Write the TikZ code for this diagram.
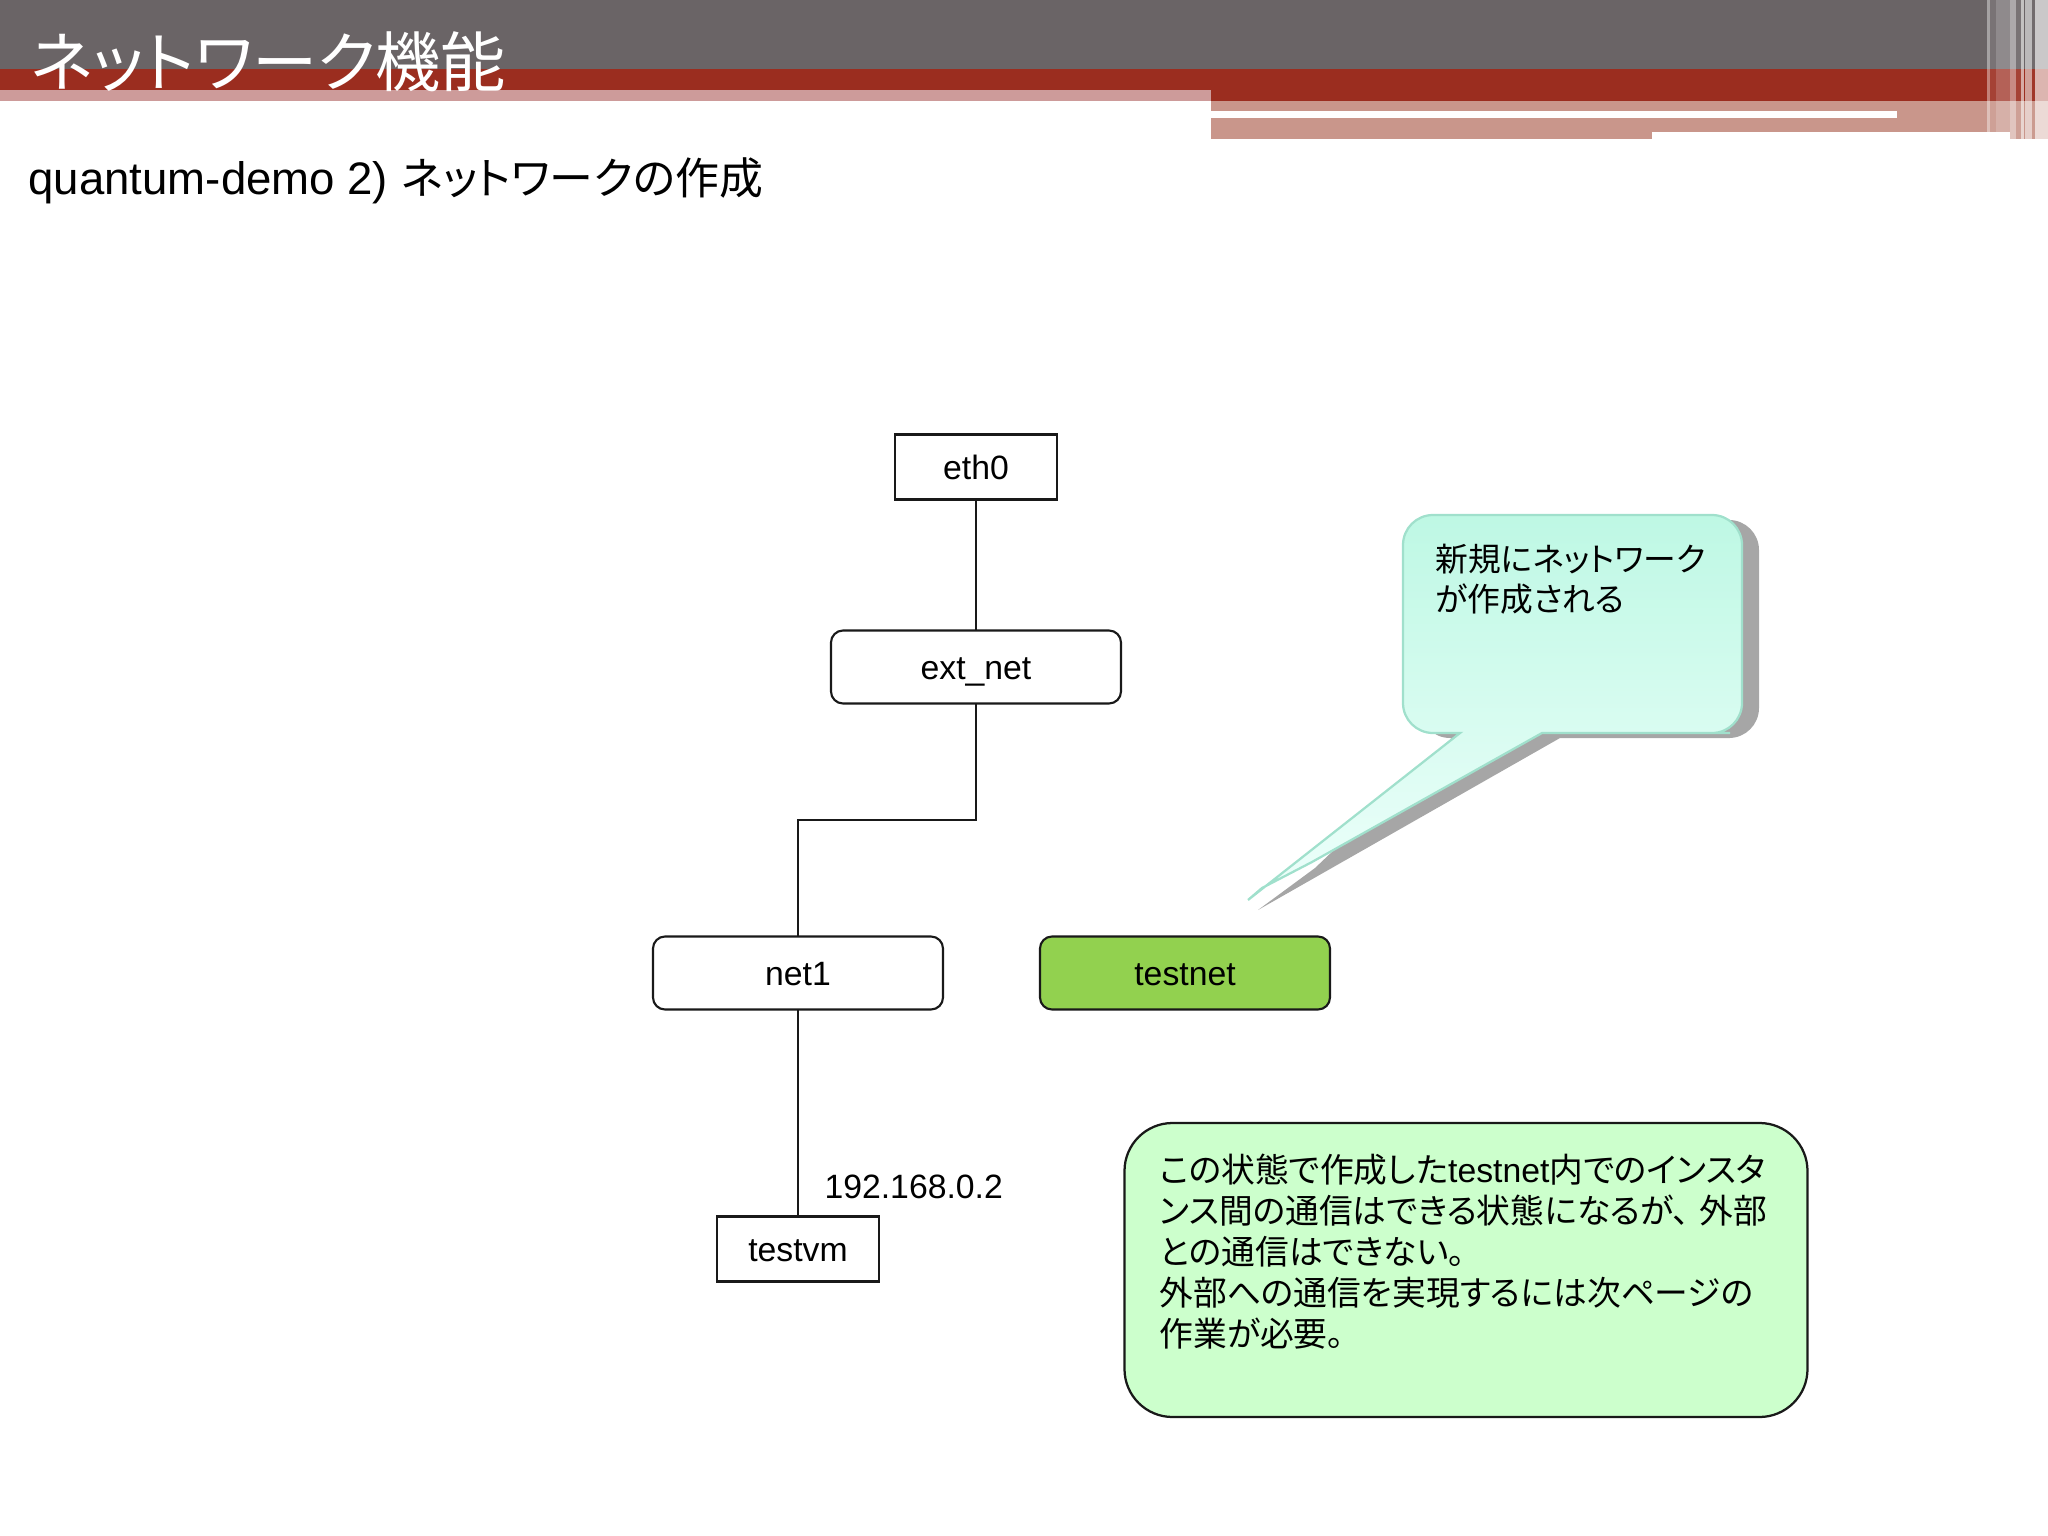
\documentclass[tikz,border=0pt]{standalone}
\usepackage{fontspec}
\setmainfont{Liberation Sans}
\newfontfamily\jp[RawFeature=+palt]{Noto Sans CJK JP}
\def\pxu{0.0125cm}
\definecolor{bandgray}{HTML}{6A6466}
\definecolor{bandred}{HTML}{9B2D1F}
\definecolor{bandpink}{HTML}{CD9B9A}
\definecolor{bandrose}{HTML}{C9968B}
\definecolor{netgreen}{HTML}{92D14F}
\definecolor{notegreen}{HTML}{CCFFCC}
\definecolor{calloutedge}{HTML}{A0E0CC}
\definecolor{callouttop}{HTML}{BEF8E4}
\definecolor{calloutlow}{HTML}{EEFFFB}
\tikzset{
	wire/.style={line width=0.8pt,draw=black!90},
	port/.style={draw=black!90,line width=0.75pt,fill=white,outer sep=0pt,inner sep=0pt,minimum width=162*\pxu,minimum height=65*\pxu,text height=8.8pt,text depth=0pt,font=\fontsize{12}{14}\selectfont},
	netbox/.style={port,rounded corners=12*\pxu,minimum width=290*\pxu,minimum height=73*\pxu},
	jptext/.style={anchor=north west,inner sep=0pt,align=left,font=\fontsize{11.7}{14.6}\selectfont\jp},
	strip/.style={white,opacity=#1}
}

\begin{document}
\begin{tikzpicture}[x=\pxu,y=-\pxu]
	\useasboundingbox (0,0) rectangle (2048,1536);
	%%%%% HEADER %%%%%
	\fill[bandgray] (0,0) rectangle (2048,69);
	\fill[bandred] (0,69) rectangle (2048,101);
	\fill[bandpink] (0,90) rectangle (1211,101);
	\fill[bandrose] (1211,101) rectangle (2048,139);
	\fill[white] (1211,111) rectangle (1897,117.5);
	
	\fill[strip=0.4] (1987.3,0) rectangle (1989.7,139);
	\fill[strip=0.1] (1990,0) rectangle (1996,139);
	\fill[strip=0.25] (1996,0) rectangle (2010,139);
	\fill[strip=0.45] (2010,0) rectangle (2016.3,139);
	\fill[strip=0.1] (2016.3,0) rectangle (2021,139);
	\fill[strip=0.6] (2021,0) rectangle (2024,139);
	\fill[strip=0.55] (2025.3,0) rectangle (2032,139);
	\fill[strip=0.05] (2032,0) rectangle (2034.7,139);
	\fill[strip=0.65] (2034.7,0) rectangle (2048,139);
	\fill[white] (1652,132) rectangle (2010,139);
	
	\node[anchor=west,inner sep=0pt,text=white,font=\fontsize{23.2}{28}\selectfont\jp] (title) at (30,62) {ネットワーク機能};
	\node[anchor=base west,inner sep=0pt,font=\fontsize{16.2}{19}\selectfont] (subtitle) at (28,194) {quantum-demo 2) {\jp\fontsize{15.6}{19}\selectfont ネットワークの作成}};
	
	%%%%% NETWORK %%%%%
	\node[port] (eth0) at (976,467) {eth0};
	\node[netbox] (extnet) at (976,667) {ext\_net};
	\node[netbox] (net1) at (798,973) {net1};
	\node[netbox,fill=netgreen] (testnet) at (1185,973) {testnet};
	\node[port] (testvm) at (798,1249) {testvm};
	\coordinate (bend) at (798,820);
	
	\draw[wire] (eth0) -- (extnet);
	\draw[wire] (extnet.south) |- (bend) -- (net1.north);
	\draw[wire] (net1) -- (testvm);
	
	\node[anchor=base west,inner sep=0pt,font=\fontsize{12}{14}\selectfont] (addr) at (824,1198) {192.168.0.2};
	
	%%%%% CALLOUT %%%%%
	\fill[black!35] (1452,738) [rounded corners=30*\pxu] -- (1420,738) -- (1420,520) -- (1759,520) -- (1759,738) -- (1700,738) [sharp corners] -- (1560,738) -- (1258,910) -- (1315,868) -- cycle;
	\draw[calloutedge,line width=0.8pt,top color=callouttop,bottom color=calloutlow] (1440,733) [rounded corners=30*\pxu] -- (1403,733) -- (1403,515) -- (1742,515) -- (1742,733) -- (1700,733) [sharp corners] -- (1542,733) -- (1312,862) -- (1262,888) -- (1248,900) -- (1460,733) -- cycle;
	\node[jptext,font=\fontsize{11.65}{14.1}\selectfont\jp] (calloutnote) at (1435,544) {新規にネットワーク\\が作成される};
	
	%%%%% NOTE %%%%%
	\node[draw=black!90,line width=0.8pt,fill=notegreen,rounded corners=48*\pxu,outer sep=0pt,minimum width=683*\pxu,minimum height=294*\pxu] (notebox) at (1466,1270) {};
	\node[jptext,font=\fontsize{12}{14.6}\selectfont\jp] (notetext) at (1159,1153) {この状態で作成した{\rmfamily testnet}内でのインスタ\\ンス間の通信はできる状態になるが、\kern0.3em 外部\\との通信はできない。\\外部への通信を実現するには次ページの\\作業が必要。};
\end{tikzpicture}
\end{document}
